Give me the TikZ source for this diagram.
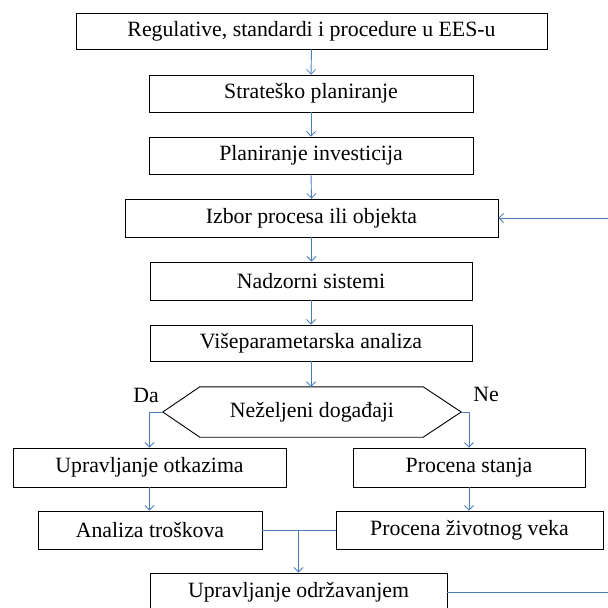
\documentclass[tikz,border=0pt]{standalone}
\usepackage{fontspec}
\setmainfont{Liberation Serif}
\usetikzlibrary{arrows.meta}
\definecolor{linkblue}{RGB}{74,126,187}
\tikzset{
  box/.style={draw=black, line width=0.9pt, inner sep=0pt, align=center,
    font=\fontsize{21.8}{26}\selectfont},
  lbl/.style={inner sep=0pt, font=\fontsize{21.8}{26}\selectfont},
  conn/.style={draw=linkblue, line width=0.9pt},
  arr/.style={conn, -{Straight Barb[length=4.5pt,width=9pt,line width=0.8pt]}}
}
\begin{document}
\begin{tikzpicture}[x=1pt,y=-1pt]
\useasboundingbox (0,0) rectangle (608,608);
\node[box, minimum width=471pt, minimum height=36pt] (reg) at (311.5,31) {Regulative, standardi i procedure u EES-u};
\node[box, minimum width=324pt, minimum height=37pt] (str) at (311,93.5) {Strateško planiranje};
\node[box, minimum width=324pt, minimum height=37pt] (inv) at (311,155.5) {Planiranje investicija};
\node[box, minimum width=373pt, minimum height=38pt] (izb) at (311.5,218) {Izbor procesa ili objekta};
\node[box, minimum width=322pt, minimum height=38pt] (nad) at (311,281) {Nadzorni sistemi};
\node[box, minimum width=322pt, minimum height=36pt] (vis) at (311,343) {Višeparametarska analiza};
\node[lbl, minimum width=298pt, minimum height=50pt] (hex) at (312,412) {Neželjeni događaji};
\draw[black, line width=0.9pt] (hex.west) -- ([xshift=37pt]hex.north west) -- ([xshift=-38pt]hex.north east)
  -- (hex.east) -- ([xshift=-38pt]hex.south east) -- ([xshift=37pt]hex.south west) -- cycle;
\node[lbl] (da) at (146,395) {Da};
\node[lbl] (ne) at (486,394) {Ne};
\node[box, minimum width=273pt, minimum height=39pt] (otk) at (149.5,467.5) {Upravljanje otkazima};
\node[box, minimum width=232pt, minimum height=39pt] (ps) at (469,467.5) {Procena stanja};
\node[box, minimum width=224pt, minimum height=38pt] (ana) at (150,530) {Analiza troškova};
\node[box, minimum width=267pt, minimum height=38pt] (pz) at (469.5,530) {Procena životnog veka};
\node[box, minimum width=297pt, minimum height=38pt] (uo) at (298.5,592) {Upravljanje održavanjem};
\draw[arr] (reg.south) -- (str.north);
\draw[arr] (str.south) -- (inv.north);
\draw[arr] (inv.south) -- (izb.north);
\draw[arr] (izb.south) -- (izb.south |- nad.north);
\draw[arr] (nad.south) -- (vis.north);
\draw[arr] (vis.south) -- (vis.south |- hex.north);
\draw[arr] (hex.west) -| (otk.north);
\draw[arr] (hex.east) -| (ps.north);
\draw[arr] (otk.south) -- (otk.south |- ana.north);
\draw[arr] (ps.south) -- (ps.south |- pz.north);
\draw[conn] (ana.east) -- (pz.west);
\draw[arr] (uo.north |- ana.east) -- (uo.north);
\draw[arr] (uo.east) -- ++(163,0) |- (izb.east);
\end{tikzpicture}
\end{document}
